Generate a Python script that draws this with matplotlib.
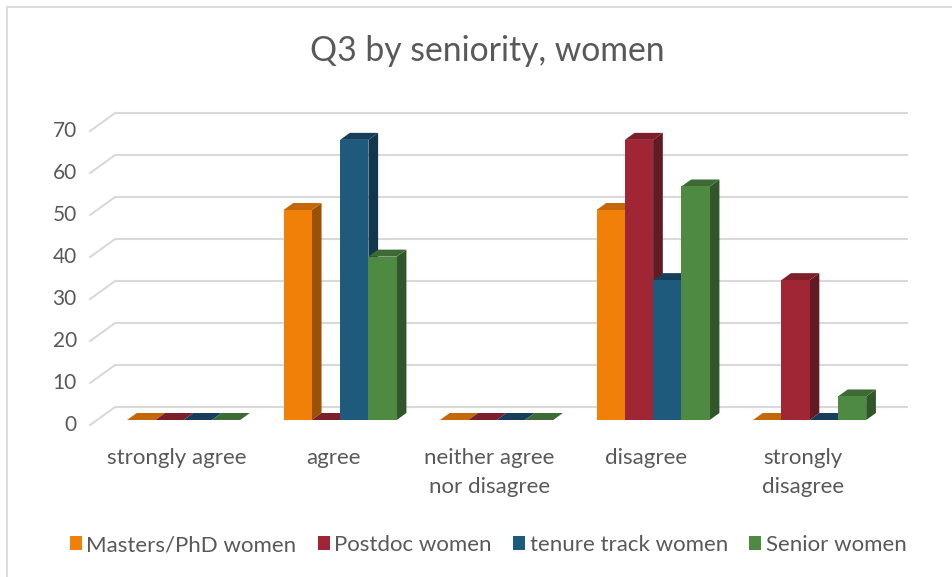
import matplotlib
matplotlib.use("Agg")
import matplotlib.pyplot as plt
from matplotlib.patches import Polygon, Rectangle, Patch

# ---- data -------------------------------------------------------------
categories = ["strongly agree", "agree", "neither agree\nnor disagree",
              "disagree", "strongly\ndisagree"]
series_names = ["Masters/PhD women", "Postdoc women",
                "tenure track women", "Senior women"]
masters_phd = [0, 50.0, 0, 50.0, 0]
postdoc = [0, 0, 0, 66.7, 33.3]
tenure_track = [0, 66.7, 0, 33.3, 0]
senior = [0, 38.9, 0, 55.6, 5.6]
yticks = [0, 10, 20, 30, 40, 50, 60, 70]
title = "Q3 by seniority, women"

# front / side / top shades of each series
front_colors = ["#F08008", "#A02535", "#1D5A7C", "#4E8A42"]
side_colors = ["#9C5205", "#621A23", "#12364E", "#31562A"]
top_colors = ["#C4690A", "#7D1F2A", "#173F5C", "#3E6B35"]

TEXT = "#595959"
GRID = "#D9D9D9"
FONT = "Lato"

# ---- figure & axes ----------------------------------------------------
W, H = 952, 577
fig = plt.figure(figsize=(W / 100, H / 100), dpi=100)

# pixel scale of the category / value axes
PX_CAT = 156.5        # pixels per category
PX_VAL = 4.2          # pixels per value unit
X0_PX = 183.6         # x pixel of first category centre
Y0_PX = 420.0         # y pixel (from top) of value 0 at the bar fronts
xlim = (-0.6, 4.65)
ylim = (-2.0, 72.0)
left = (X0_PX + PX_CAT * xlim[0]) / W
right = (X0_PX + PX_CAT * xlim[1]) / W
bottom = (H - (Y0_PX - PX_VAL * ylim[0])) / H
top = (H - (Y0_PX - PX_VAL * ylim[1])) / H
ax = fig.add_axes([left, bottom, right - left, top - bottom])
ax.set_xlim(*xlim)
ax.set_ylim(*ylim)
ax.axis("off")

# oblique depth: d pixels of depth go right by 1.39*d px and up by d px
SLANT = 1.39


def shift(d):
    return SLANT * d / PX_CAT, d / PX_VAL


D_FLOOR_FRONT = -5
D_BAR_BACK = 7
D_WALL = 13

# ---- gridlines: back wall + left side wall -----------------------------
wx, wy = shift(D_WALL)
fx, fy = shift(D_FLOOR_FRONT)
floor_left = -0.553
wall_right = 4.63
for v in yticks:
    ax.plot([floor_left + wx, wall_right], [v + wy, v + wy], color=GRID,
            lw=1.5, solid_capstyle="butt", clip_on=False, zorder=1)
    ax.plot([floor_left + fx, floor_left + wx], [v + fy, v + wy],
            color=GRID, lw=1.5, clip_on=False, zorder=1)
    ax.text(floor_left + fx - 0.085, v + fy, f"{v}", ha="right", va="center",
            fontsize=15, color=TEXT, family=FONT)

# ---- bars -------------------------------------------------------------
values = [masters_phd, postdoc, tenure_track, senior]
n = len(values)
bar_w = 0.1808
group_left = -n * bar_w / 2
bx, by = shift(D_BAR_BACK)
for i in range(len(categories)):
    for j, series in enumerate(values):
        v = series[i]
        x0 = i + group_left + j * bar_w
        x1 = x0 + bar_w
        z = 2 + j
        if v > 0:
            ax.add_patch(Polygon([(x1, 0), (x1 + bx, by), (x1 + bx, v + by),
                                  (x1, v)], closed=True, fc=side_colors[j],
                                 ec="none", zorder=z))
        ax.add_patch(Polygon([(x0, v), (x1, v), (x1 + bx, v + by),
                              (x0 + bx, v + by)], closed=True,
                             fc=top_colors[j], ec="none", zorder=z))
        if v > 0:
            ax.add_patch(Rectangle((x0, 0), bar_w, v, fc=front_colors[j],
                                   ec="none", zorder=z))

# ---- category labels --------------------------------------------------
label_y = (Y0_PX - 448) / PX_VAL
for i, cat in enumerate(categories):
    ax.text(i + fx, label_y, cat, ha="center", va="top", fontsize=16,
            color=TEXT, family=FONT, linespacing=1.55)

# ---- title ------------------------------------------------------------
fig.text(487 / W, 1 - 51 / H, title, ha="center", va="center",
         fontsize=24.3, color=TEXT, family=FONT)

# ---- legend -----------------------------------------------------------
handles = [Patch(fc=c, ec="none") for c in front_colors]
fig.legend(handles, series_names, loc="center", ncol=4,
           bbox_to_anchor=(488 / W, 1 - 545 / H), frameon=False,
           prop={"family": FONT, "size": 16}, labelcolor=TEXT,
           handlelength=0.55, handleheight=0.55, handletextpad=0.2,
           columnspacing=0.95)

# ---- chart border -----------------------------------------------------
fig.patches.append(Rectangle((6.5 / W, -0.1), 1.2, 1 + 0.1 - 7.5 / H,
                             transform=fig.transFigure, fill=False,
                             ec=GRID, lw=1.3))

fig.savefig("out.png", dpi=100)
